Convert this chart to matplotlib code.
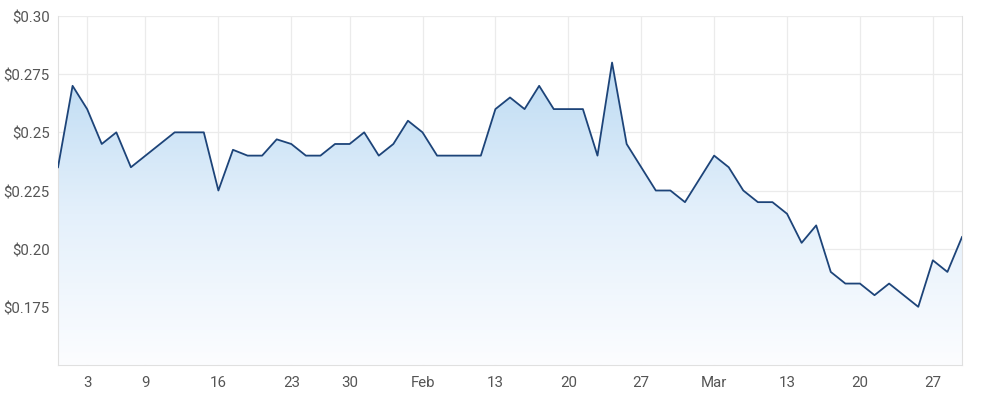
import numpy as np
import pandas as pd
import matplotlib
matplotlib.use("Agg")
import matplotlib.pyplot as plt
from matplotlib.colors import LinearSegmentedColormap
from matplotlib.patches import Polygon

plt.rcParams['font.family'] = ['Roboto', 'DejaVu Sans']

# trading days (ASX), Dec 29 2022 - Mar 29 2023
holidays = pd.to_datetime(["2023-01-02", "2023-01-26"])
dates = pd.bdate_range("2022-12-29", "2023-03-29")
dates = dates[~dates.isin(holidays)]

prices = [0.235, 0.27, 0.26, 0.245, 0.25, 0.235, 0.24, 0.245, 0.25, 0.25,
          0.25, 0.225, 0.2425, 0.24, 0.24, 0.247, 0.245, 0.24, 0.24, 0.245,
          0.245, 0.25, 0.24, 0.245, 0.255, 0.25, 0.24, 0.24, 0.24, 0.24,
          0.26, 0.265, 0.26, 0.27, 0.26, 0.26, 0.26, 0.24, 0.28, 0.245,
          0.235, 0.225, 0.225, 0.22, 0.23, 0.24, 0.235, 0.225, 0.22, 0.22,
          0.215, 0.2025, 0.21, 0.19, 0.185, 0.185, 0.18, 0.185, 0.18, 0.175,
          0.195, 0.19, 0.205]

tick_dates = pd.to_datetime(["2023-01-03", "2023-01-09", "2023-01-16", "2023-01-23",
                             "2023-01-30", "2023-02-06", "2023-02-13", "2023-02-20",
                             "2023-02-27", "2023-03-06", "2023-03-13", "2023-03-20",
                             "2023-03-27"])
tick_labels = ["3", "9", "16", "23", "30", "Feb", "13", "20", "27", "Mar", "13", "20", "27"]

y_ticks = [0.175, 0.20, 0.225, 0.25, 0.275, 0.30]
y_labels = ["$0.175", "$0.20", "$0.225", "$0.25", "$0.275", "$0.30"]

x = np.arange(len(dates))
tick_pos = [dates.get_loc(d) for d in tick_dates]

fig = plt.figure(figsize=(10, 4.02), dpi=100)
ax = fig.add_axes([0.058, 0.0896, 0.904, 0.868])

ymin, ymax = 0.15, 0.30
ax.set_xlim(0, len(dates) - 1)
ax.set_ylim(ymin, ymax)

# gradient fill under the line
cmap = LinearSegmentedColormap.from_list("fill", ["#fcfdff", "#e4f0fb", "#bddbf3"])
grad = np.linspace(0, 1, 256).reshape(-1, 1)
top = max(prices)
img = ax.imshow(grad, extent=[0, len(dates) - 1, ymin, top], origin="lower",
                aspect="auto", cmap=cmap, zorder=1)
verts = list(zip(x, prices)) + [(x[-1], ymin), (x[0], ymin)]
poly = Polygon(verts, closed=True, facecolor="none", edgecolor="none")
ax.add_patch(poly)
img.set_clip_path(poly)

ax.plot(x, prices, color="#1d4479", linewidth=1.3, zorder=3)

ax.set_xticks(tick_pos)
ax.set_xticklabels(tick_labels)
ax.set_yticks(y_ticks)
ax.set_yticklabels(y_labels)

ax.grid(True, color="#ebebeb", linewidth=0.9, zorder=0)
ax.set_axisbelow(True)
for s in ["left", "bottom", "right"]:
    ax.spines[s].set_color("#e0e0e0")
ax.spines["top"].set_visible(False)

ax.tick_params(axis="both", length=0, labelsize=10.8, labelcolor="#555555")
ax.tick_params(axis="x", pad=7)
ax.tick_params(axis="y", pad=6)

fig.savefig("out.png", dpi=100, facecolor="white")
